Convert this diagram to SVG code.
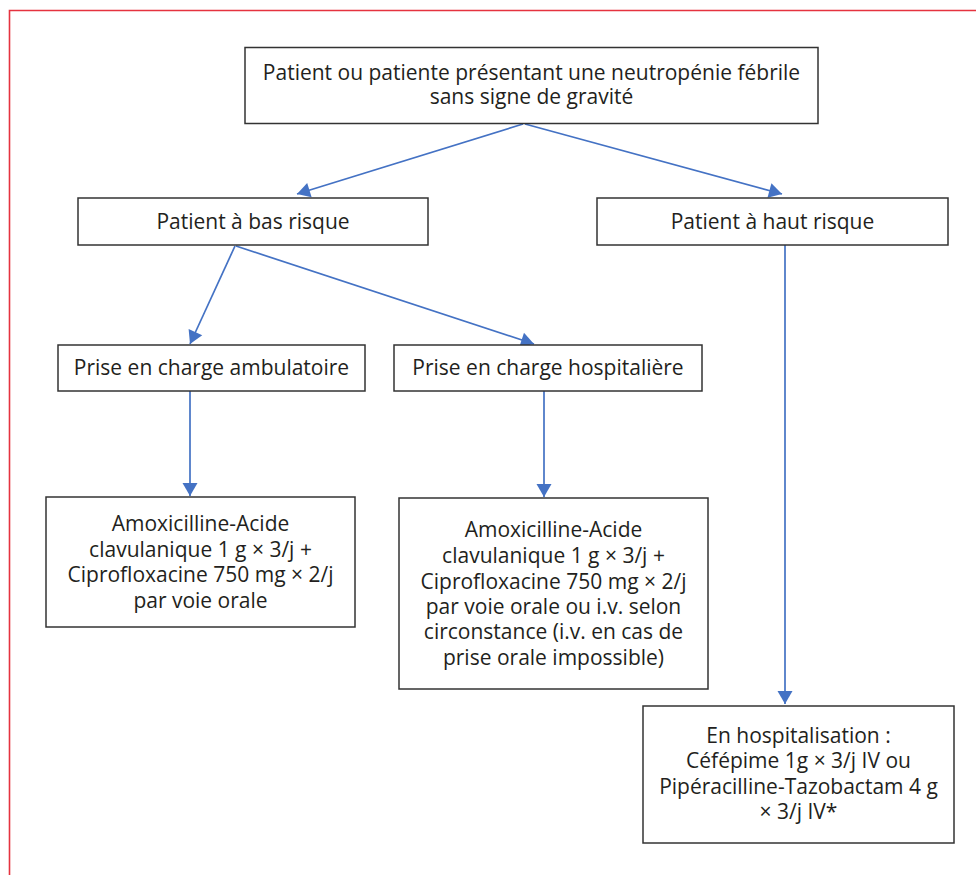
<svg xmlns="http://www.w3.org/2000/svg" width="976" height="875" viewBox="0 0 976 875">
<style>
.box{fill:#fff;stroke:#333;stroke-width:1.5}
.t{font-family:"Open Sans","Noto Sans","Liberation Sans",sans-serif;font-size:21px;fill:#231f20;text-anchor:middle}
.c{stroke:#4472c4;stroke-width:1.7;fill:none;marker-end:url(#ah)}
</style>
<defs>
<marker id="ah" markerUnits="userSpaceOnUse" markerWidth="16" markerHeight="16" viewBox="0 0 13 16" refX="13" refY="8" orient="auto">
<path d="M0,0.5 L13,8 L0,15.5 Z" fill="#4472c4"/>
</marker>
</defs>
<rect x="0" y="0" width="976" height="875" fill="#fff"/>
<path d="M9.5,880 L9.5,10.5 L980,10.5" fill="none" stroke="#e5333f" stroke-width="1.6"/>
<g id="connectors">
<line class="c" x1="523" y1="124" x2="297" y2="194"/>
<line class="c" x1="525" y1="124" x2="782" y2="194"/>
<line class="c" x1="235" y1="246" x2="190" y2="344"/>
<line class="c" x1="236" y1="246" x2="534" y2="344"/>
<line class="c" x1="190" y1="391" x2="190" y2="496"/>
<line class="c" x1="544" y1="391" x2="544" y2="497"/>
<line class="c" x1="785" y1="245" x2="785" y2="704"/>
</g>
<g id="n-start">
<rect class="box" x="245" y="47.5" width="573" height="76"/>
<text class="t" x="531.5" y="80">Patient ou patiente présentant une neutropénie fébrile</text>
<text class="t" x="531.5" y="104">sans signe de gravité</text>
</g>
<g id="n-bas">
<rect class="box" x="78" y="198" width="350" height="47"/>
<text class="t" x="253" y="229">Patient à bas risque</text>
</g>
<g id="n-haut">
<rect class="box" x="597" y="198" width="351" height="47"/>
<text class="t" x="772.5" y="229">Patient à haut risque</text>
</g>
<g id="n-ambu">
<rect class="box" x="58" y="345" width="307" height="46"/>
<text class="t" x="211.5" y="375">Prise en charge ambulatoire</text>
</g>
<g id="n-hosp">
<rect class="box" x="394" y="345" width="308" height="46"/>
<text class="t" x="548" y="375">Prise en charge hospitalière</text>
</g>
<g id="n-amox1">
<rect class="box" x="46" y="497" width="309" height="130"/>
<text class="t" x="200.5" y="531">Amoxicilline-Acide</text>
<text class="t" x="200.5" y="557">clavulanique 1 g × 3/j +</text>
<text class="t" x="200.5" y="582">Ciprofloxacine 750 mg × 2/j</text>
<text class="t" x="200.5" y="608">par voie orale</text>
</g>
<g id="n-amox2">
<rect class="box" x="399" y="498" width="309" height="191"/>
<text class="t" x="553.5" y="537">Amoxicilline-Acide</text>
<text class="t" x="553.5" y="563">clavulanique 1 g × 3/j +</text>
<text class="t" x="553.5" y="589">Ciprofloxacine 750 mg × 2/j</text>
<text class="t" x="553.5" y="614">par voie orale ou i.v. selon</text>
<text class="t" x="553.5" y="639">circonstance (i.v. en cas de</text>
<text class="t" x="553.5" y="665">prise orale impossible)</text>
</g>
<g id="n-final">
<rect class="box" x="643" y="706" width="311" height="137"/>
<text class="t" x="798.5" y="743">En hospitalisation :</text>
<text class="t" x="798.5" y="768">Céfépime 1g × 3/j IV ou</text>
<text class="t" x="798.5" y="794">Pipéracilline-Tazobactam 4 g</text>
<text class="t" x="798.5" y="819">× 3/j IV*</text>
</g>
</svg>
